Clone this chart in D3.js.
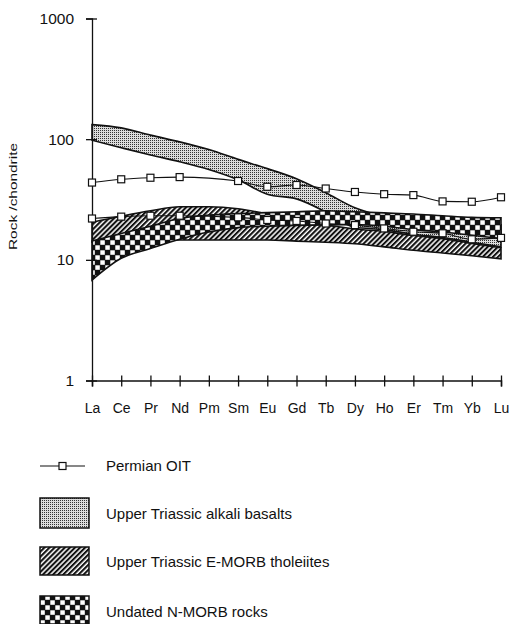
<!DOCTYPE html>
<html>
<head>
<meta charset="utf-8">
<script src="https://cdn.jsdelivr.net/npm/d3@7"></script>
<style>
  body { margin: 0; background: #fff; }
  text { font-family: "Liberation Sans", Arial, Helvetica, sans-serif; fill: #111; }
</style>
</head>
<body>
<div id="chart"></div>
<script>
// rare earth elements along the x axis
const elements = ["La","Ce","Pr","Nd","Pm","Sm","Eu","Gd","Tb","Dy","Ho","Er","Tm","Yb","Lu"];
const yTicks = [1, 10, 100, 1000];

// Permian OIT samples (Pm not measured)
const oitUpper = [43.7, 46.5, 47.9, 48.5, null, 45, 40.3, 41.7, 39, 36.5, 35, 34.4, 30.5, 30.3, 33];
const oitLower = [22, 22.8, 23.2, 23.2, null, 22.5, 21.4, 21, 20, 19.4, 18.2, 17.1, 16.6, 14.8, 15.2];

// Upper Triassic alkali basalts (range)
const alkaliTop = [132, 124, 108, 95, 82, 68, 57, 47, 36, 27, 23, 21.5, 20.5, 20, 19.5];
const alkaliBot = [98, 85, 74, 65, 56, 46, 35, 32, 25, 18.6, 17.8, 16.3, 15.3, 14, 12.8];

// Upper Triassic E-MORB tholeiites (range)
const emorbTop = [20.5, 23, 25.5, 27.5, 27.5, 26.5, 24, 21, 19.5, 18, 17.2, 15.9, 15, 13.7, 12.6];
const emorbBot = [14, 14.3, 14.5, 14.6, 14.6, 14.6, 14.6, 14.3, 14, 13.6, 12.8, 12, 11.4, 10.8, 10.2];

// Undated N-MORB rocks (range)
const nmorbTop = [14.3, 16.5, 19, 22, 23.5, 24.2, 24.6, 25, 25.5, 25, 24.5, 24, 23.2, 22.5, 22.3];
const nmorbBot = [6.8, 10.3, 12.4, 14.8, 17, 18.5, 19, 19.3, 19.5, 19.6, 19, 17.8, 17, 16, 15];

const legendLabels = ["Permian OIT", "Upper Triassic alkali basalts",
                      "Upper Triassic E-MORB tholeiites", "Undated N-MORB rocks"];

const width = 513, height = 624;

const svg = d3.select("#chart").append("svg")
    .attr("width", width)
    .attr("height", height);

// fill patterns
const defs = svg.append("defs");

const stip = defs.append("pattern").attr("id", "stipple")
    .attr("patternUnits", "userSpaceOnUse").attr("width", 2).attr("height", 2);
stip.append("rect").attr("width", 2).attr("height", 2).attr("fill", "#dcdcdc");
stip.append("rect").attr("width", 1).attr("height", 1).attr("fill", "#333");

const hatch = defs.append("pattern").attr("id", "hatch")
    .attr("patternUnits", "userSpaceOnUse").attr("width", 3.6).attr("height", 3.6)
    .attr("patternTransform", "rotate(45)");
hatch.append("rect").attr("width", 3.6).attr("height", 3.6).attr("fill", "#fff");
hatch.append("rect").attr("width", 2.1).attr("height", 3.6).attr("fill", "#111");

const check = defs.append("pattern").attr("id", "checker")
    .attr("patternUnits", "userSpaceOnUse").attr("width", 10).attr("height", 10);
check.append("rect").attr("width", 10).attr("height", 10).attr("fill", "#111");
check.append("rect").attr("x", 0.3).attr("y", 0.3).attr("width", 4.5).attr("height", 4.5).attr("fill", "#fff");
check.append("rect").attr("x", 5.3).attr("y", 5.3).attr("width", 4.5).attr("height", 4.5).attr("fill", "#fff");

// scales
const x = d3.scalePoint().domain(elements).range([92, 501]);
const y = d3.scaleLog().domain([1, 1000]).range([380.5, 18.5]);

// bands
function band(top, bot, fill) {
    const rows = elements.map((e, i) => ({ e: e, t: top[i], b: bot[i] }));
    const area = d3.area()
        .x(d => x(d.e))
        .y0(d => y(d.b))
        .y1(d => y(d.t))
        .curve(d3.curveMonotoneX);
    svg.append("path")
        .datum(rows)
        .attr("d", area)
        .attr("fill", fill)
        .attr("stroke", "#111")
        .attr("stroke-width", 1.6);
}
band(alkaliTop, alkaliBot, "url(#stipple)");
band(emorbTop, emorbBot, "url(#hatch)");
band(nmorbTop, nmorbBot, "url(#checker)");

// axes
const yAxis = d3.axisLeft(y).tickValues(yTicks).tickFormat(d3.format("d")).tickSize(6).tickPadding(12);
const gy = svg.append("g").attr("transform", "translate(92,0)").call(yAxis);
gy.select(".domain").attr("stroke", "#111").attr("stroke-width", 1.3);
gy.selectAll(".tick line").attr("x1", 5).attr("stroke", "#111").attr("stroke-width", 1.3);
gy.selectAll(".tick text").style("font-size", "15.5px").attr("fill", "#111");

const xAxis = d3.axisBottom(x).tickSize(6).tickPadding(17);
const gx = svg.append("g").attr("transform", "translate(0,380.5)").call(xAxis);
gx.select(".domain").attr("stroke", "#111").attr("stroke-width", 1.5);
gx.selectAll(".tick line").attr("y1", -5).attr("stroke", "#111").attr("stroke-width", 1.3);
gx.selectAll(".tick text").style("font-size", "14px").attr("fill", "#111");

svg.append("text")
    .attr("transform", "translate(17,250) rotate(-90)")
    .attr("textLength", 107)
    .attr("lengthAdjust", "spacingAndGlyphs")
    .style("font-size", "11px")
    .text("Rock /chondrite");

// OIT lines with square markers
function oit(vals) {
    const pts = elements.map((e, i) => ({ e: e, v: vals[i] })).filter(d => d.v != null);
    svg.append("path")
        .datum(pts)
        .attr("d", d3.line().x(d => x(d.e)).y(d => y(d.v)).curve(d3.curveMonotoneX))
        .attr("fill", "none")
        .attr("stroke", "#111")
        .attr("stroke-width", 1.1);
    svg.selectAll(null)
        .data(pts)
        .enter()
        .append("rect")
        .attr("x", d => x(d.e) - 3.5)
        .attr("y", d => y(d.v) - 3.5)
        .attr("width", 7)
        .attr("height", 7)
        .attr("fill", "#fff")
        .attr("stroke", "#111")
        .attr("stroke-width", 1.2);
}
oit(oitUpper);
oit(oitLower);

// legend
const lg = svg.append("g");
lg.append("line").attr("x1", 40).attr("x2", 85).attr("y1", 466).attr("y2", 466)
    .attr("stroke", "#111").attr("stroke-width", 1.1);
lg.append("rect").attr("x", 59).attr("y", 462.5).attr("width", 7).attr("height", 7)
    .attr("fill", "#fff").attr("stroke", "#111").attr("stroke-width", 1.2);

const swatches = [
    { fill: "url(#stipple)", y: 498, h: 30 },
    { fill: "url(#hatch)", y: 547, h: 28 },
    { fill: "url(#checker)", y: 596, h: 28 }
];
lg.selectAll(".sw")
    .data(swatches)
    .enter()
    .append("rect")
    .attr("class", "sw")
    .attr("x", 40)
    .attr("y", d => d.y)
    .attr("width", 49)
    .attr("height", d => d.h)
    .attr("fill", d => d.fill)
    .attr("stroke", "#111")
    .attr("stroke-width", 1.5);

const labelY = [466, 514, 562, 612];
lg.selectAll(".lt")
    .data(legendLabels)
    .enter()
    .append("text")
    .attr("class", "lt")
    .attr("x", 106)
    .attr("y", (d, i) => labelY[i])
    .attr("dy", "0.35em")
    .style("font-size", "15px")
    .text(d => d);
</script>
</body>
</html>
